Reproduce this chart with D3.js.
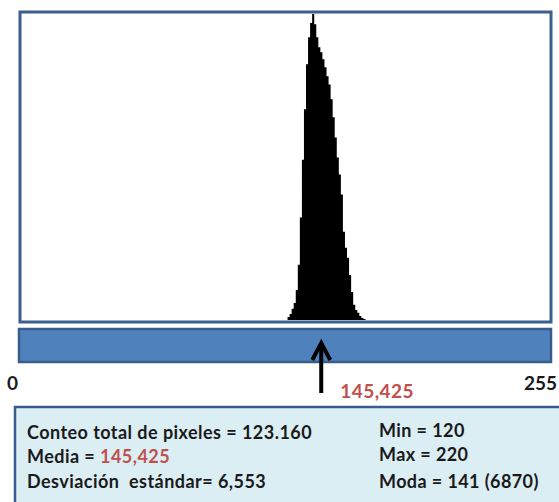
<!DOCTYPE html>
<html><head><meta charset="utf-8">
<script src="https://cdn.jsdelivr.net/npm/d3@7"></script>
<style>body{margin:0;background:#fff}svg{display:block}text{white-space:pre}</style>
</head><body>
<svg id="c" width="559" height="502"></svg>
<script>
// Histogram data (gray level -> pixel count)
const levels = [129,130,131,132,133,134,135,136,137,138,139,140,141,142,143,144,145,146,147,148,149,150,151,152,153,154,155,156,157,158,159,160,161,162,163,164,165,166];
const counts = [70,135,250,380,675,1240,2300,3600,4730,5740,6350,6670,6870,6640,6350,6125,6010,5855,5675,5470,5290,4955,4550,4100,3650,3265,2815,1980,1620,1400,1010,630,340,225,160,90,45,20];
const axisLabels = ["0","255"];
const meanValue = 145.425;
const meanLabel = "145,425";
const statsLeft = [["Conteo total de pixeles = ","123.160",false],["Media = ","145,425",true],["Desviación  estándar= ","6,553",false]];
const statsRight = ["Min = 120","Max = 220","Moda = 141 (6870)"];

const svg = d3.select("#c");
const frame = {x:20, y:12, w:531, h:310};
const x = d3.scaleLinear().domain([0,256]).range([frame.x+3, frame.x+frame.w-3]);
const y = d3.scaleLinear().domain([0,6870]).range([frame.y+frame.h-2, frame.y+2]);
const FONT = "Lato";

// frame
svg.append("rect").attr("x",frame.x).attr("y",frame.y).attr("width",frame.w).attr("height",frame.h)
  .attr("fill","#fff").attr("stroke","#3b5f8e").attr("stroke-width",3);

// histogram
const pts = levels.map((v,i)=>[v,counts[i]]);
pts.push([levels[levels.length-1]+1,0]);
const area = d3.area().curve(d3.curveStepAfter)
  .x(d=>x(d[0])).y0(y(0)).y1(d=>y(d[1]));
svg.append("path").datum(pts).attr("d",area).attr("fill","#000");

// gradient bar
svg.append("rect").attr("x",19).attr("y",329).attr("width",532).attr("height",33)
  .attr("fill","#4f81bd").attr("stroke","#385d8a").attr("stroke-width",2.5);

// axis labels
svg.append("text").attr("x",7).attr("y",390).text(axisLabels[0])
  .attr("font-family",FONT).attr("font-weight","bold").attr("font-size",19).attr("fill","#1a1a1a");
svg.append("text").attr("x",557).attr("y",390).attr("text-anchor","end").text(axisLabels[1])
  .attr("font-family",FONT).attr("font-weight","bold").attr("font-size",19).attr("fill","#1a1a1a");

// arrow at mean
const ax = x(meanValue);
svg.append("line").attr("x1",ax).attr("x2",ax).attr("y1",393).attr("y2",345)
  .attr("stroke","#000").attr("stroke-width",4);
svg.append("path").attr("d",`M${ax-9},${360} L${ax},${343} L${ax+9},${360}`)
  .attr("fill","none").attr("stroke","#000").attr("stroke-width",4).attr("stroke-linejoin","miter");
svg.append("text").attr("x",ax+19).attr("y",398).text(meanLabel)
  .attr("font-family",FONT).attr("font-weight","bold").attr("font-size",19).attr("letter-spacing",0.45).attr("fill","#c0504d");

// stats box
svg.append("rect").attr("x",15).attr("y",407).attr("width",560).attr("height",120)
  .attr("fill","#dbeef4").attr("stroke","#385d8a").attr("stroke-width",2.5);
const ly = [439,463,488];
statsLeft.forEach((s,i)=>{
  const t = svg.append("text").attr("x",27).attr("y",ly[i])
    .attr("font-family",FONT).attr("font-weight","bold").attr("font-size",18).attr("letter-spacing",0.45).attr("fill","#1a1a1a");
  t.append("tspan").text(s[0]);
  t.append("tspan").text(s[1]).attr("fill", s[2] ? "#c0504d" : "#1a1a1a");
});
const ry = [437,461,488];
statsRight.forEach((s,i)=>{
  svg.append("text").attr("x",379).attr("y",ry[i]).text(s)
    .attr("font-family",FONT).attr("font-weight","bold").attr("font-size",18).attr("letter-spacing",0.4).attr("fill","#1a1a1a");
});
</script>
</body></html>
